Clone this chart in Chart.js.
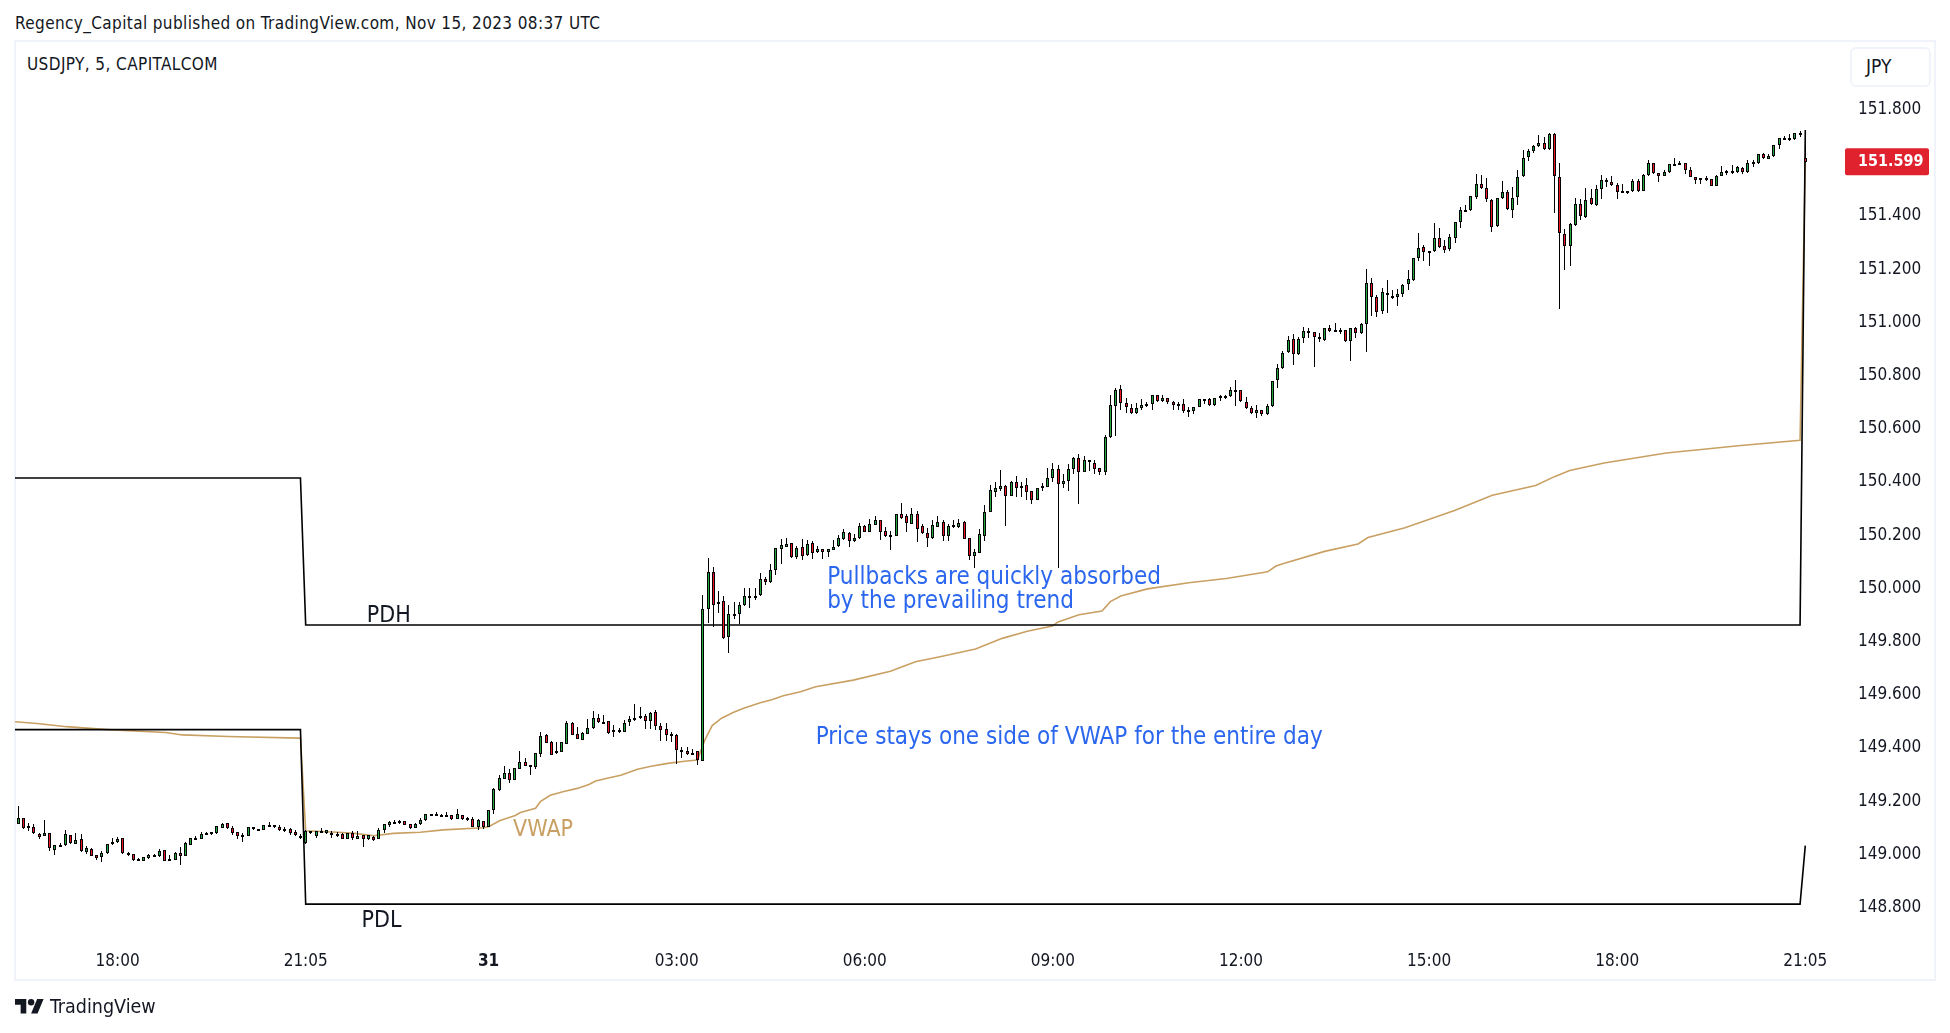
<!DOCTYPE html>
<html><head><meta charset="utf-8">
<style>
html,body{margin:0;padding:0;background:#fff;width:1950px;height:1033px;overflow:hidden}
body{font-family:"DejaVu Sans Condensed","DejaVu Sans",sans-serif;color:#131722;font-stretch:condensed}
.abs{position:absolute;white-space:nowrap}
#frame{left:14px;top:40px;width:1918px;height:937px;border:2px solid #f0f3fa}
#chart{position:absolute;left:0;top:0}
#jpy{left:1850px;top:47px;width:77px;height:36px;border:2px solid #f0f3fa;border-radius:6px;font-size:19px;line-height:34px;text-indent:14px}
</style>
<script src="https://cdn.jsdelivr.net/npm/chart.js@4/dist/chart.umd.min.js"></script>
</head><body>
<div class="abs" style="left:15px;top:13px;font-size:17px;line-height:20px;letter-spacing:.38px">Regency_Capital published on TradingView.com, Nov 15, 2023 08:37 UTC</div>
<div class="abs" id="frame"></div>
<div class="abs" style="left:27px;top:54px;font-size:17px;line-height:20px;letter-spacing:.41px">USDJPY, 5, CAPITALCOM</div>
<div class="abs" id="jpy">JPY</div>
<canvas id="chart" width="1950" height="1033" style="width:1950px;height:1033px"></canvas>
<svg class="abs" style="left:15px;top:999px" width="29" height="15" viewBox="0 0 36 18.5"><path d="M14 18H7V7H0V0h14v18zM28 18h-8L27.5 0h8L28 18z" fill="#131722"/><circle cx="20" cy="4" r="4" fill="#131722"/></svg>
<div class="abs" style="left:50px;top:996px;font-size:19.5px;line-height:22px">TradingView</div>
<script>
const candleOpen=[
149.106,149.129,149.100,149.095,149.068,149.063,149.072,149.011,149.023,149.027,149.065,149.033,149.050,149.003,149.013,148.989,148.984,148.997,149.031,149.038,
149.053,148.997,148.993,148.969,148.969,148.981,148.986,148.986,149.008,148.969,148.973,148.998,148.988,149.030,149.052,149.052,149.068,149.073,149.075,149.093,
149.110,149.093,149.076,149.066,149.063,149.095,149.083,149.086,149.102,149.102,149.095,149.083,149.087,149.076,149.063,149.035,149.080,149.063,149.076,149.072,
149.072,149.070,149.068,149.052,149.072,149.052,149.065,149.052,149.060,149.052,149.083,149.104,149.112,149.109,149.117,149.106,149.093,149.106,149.121,149.140,
149.140,149.140,149.139,149.140,149.127,149.140,149.131,149.127,149.097,149.119,149.096,149.158,149.236,149.278,149.299,149.274,149.315,149.339,149.327,149.322,
149.372,149.442,149.416,149.373,149.379,149.409,149.486,149.444,149.424,149.447,149.467,149.504,149.492,149.493,149.456,149.457,149.454,149.489,149.504,149.510,
149.512,149.493,149.527,149.474,149.463,149.441,149.442,149.384,149.380,149.372,149.380,149.345,149.914,150.053,149.933,149.944,149.809,149.894,149.896,149.932,
149.962,149.962,149.967,150.027,150.016,150.061,150.140,150.150,150.162,150.112,150.147,150.117,150.162,150.128,150.140,150.128,150.138,150.151,150.180,150.202,
150.170,150.181,150.226,150.206,150.231,150.250,150.207,150.191,150.191,150.271,150.264,150.236,150.271,150.226,150.200,150.184,150.225,150.241,150.191,150.226,
150.225,150.242,150.181,150.116,150.127,150.191,150.281,150.356,150.368,150.376,150.340,150.392,150.372,150.380,150.358,150.326,150.373,150.375,150.409,150.440,
150.384,150.396,150.441,150.482,150.430,150.475,150.463,150.445,150.430,150.561,150.678,150.742,150.689,150.670,150.651,150.670,150.681,150.685,150.719,150.696,
150.708,150.693,150.684,150.685,150.659,150.659,150.674,150.700,150.704,150.681,150.708,150.713,150.715,150.734,150.738,150.693,150.670,150.651,150.663,150.648,
150.678,150.775,150.820,150.881,150.929,150.873,150.933,150.960,150.956,150.937,150.926,150.971,150.962,150.963,150.963,150.924,150.971,150.952,150.986,151.140,
151.087,151.035,151.102,151.087,151.087,151.099,151.136,151.151,151.234,151.275,151.257,151.260,151.309,151.279,151.268,151.309,151.369,151.414,151.414,151.463,
151.512,151.497,151.452,151.354,151.460,151.482,151.414,151.463,151.542,151.614,151.636,151.655,151.666,151.644,151.700,151.538,151.324,151.279,151.358,151.437,
151.388,151.460,151.433,151.493,151.523,151.520,151.508,151.483,151.486,151.485,151.523,151.485,151.546,151.591,151.554,151.545,151.560,151.586,151.586,151.591,
151.565,151.540,151.531,151.530,151.531,151.507,151.545,151.557,151.557,151.557,151.572,151.557,151.591,151.591,151.625,151.609,151.617,151.658,151.681,151.681,
151.681,151.703,151.610];
const candleClose=[
149.129,149.091,149.093,149.072,149.060,149.072,149.015,149.027,149.028,149.068,149.035,149.046,149.004,149.016,148.988,148.981,148.997,149.031,149.040,149.050,
148.997,148.993,148.971,148.974,148.982,148.992,148.992,149.006,148.969,148.974,148.998,148.988,149.036,149.053,149.055,149.070,149.075,149.076,149.098,149.107,
149.091,149.075,149.063,149.062,149.095,149.087,149.087,149.102,149.105,149.095,149.083,149.087,149.075,149.065,149.061,149.080,149.072,149.080,149.080,149.083,
149.065,149.065,149.052,149.072,149.056,149.062,149.052,149.065,149.046,149.083,149.106,149.114,149.115,149.117,149.105,149.092,149.107,149.122,149.144,149.144,
149.145,149.142,149.141,149.127,149.145,149.127,149.129,149.097,149.121,149.095,149.159,149.239,149.280,149.299,149.273,149.317,149.339,149.327,149.329,149.373,
149.437,149.413,149.368,149.382,149.414,149.486,149.443,149.428,149.448,149.468,149.504,149.489,149.488,149.451,149.459,149.461,149.486,149.502,149.507,149.512,
149.493,149.526,149.477,149.462,149.443,149.446,149.384,149.387,149.372,149.374,149.349,149.914,150.053,149.929,149.941,149.808,149.896,149.897,149.929,149.963,
149.965,149.965,150.027,150.016,150.061,150.143,150.155,150.160,150.112,150.143,150.116,150.158,150.127,150.140,150.128,150.140,150.150,150.181,150.204,150.170,
150.181,150.226,150.206,150.235,150.249,150.204,150.191,150.194,150.271,150.259,150.237,150.271,150.217,150.200,150.184,150.230,150.241,150.191,150.226,150.230,
150.237,150.180,150.116,150.128,150.196,150.279,150.361,150.369,150.376,150.339,150.393,150.372,150.379,150.356,150.324,150.369,150.376,150.407,150.440,150.384,
150.396,150.441,150.482,150.430,150.475,150.467,150.441,150.430,150.561,150.681,150.738,150.689,150.674,150.651,150.670,150.681,150.685,150.719,150.696,150.708,
150.693,150.681,150.686,150.658,150.663,150.674,150.704,150.703,150.681,150.708,150.715,150.715,150.738,150.738,150.696,150.670,150.651,150.663,150.648,150.678,
150.772,150.820,150.877,150.926,150.873,150.929,150.960,150.952,150.937,150.929,150.971,150.960,150.965,150.958,150.924,150.971,150.952,150.986,151.140,151.087,
151.031,151.106,151.095,151.091,151.099,151.132,151.155,151.234,151.272,151.257,151.260,151.309,151.275,151.264,151.313,151.369,151.414,151.416,151.467,151.512,
151.497,151.456,151.350,151.460,151.482,151.418,151.460,151.538,151.610,151.636,151.655,151.666,151.644,151.700,151.542,151.328,151.279,151.362,151.437,151.392,
151.452,151.437,151.493,151.527,151.527,151.508,151.482,151.486,151.481,151.523,151.485,151.546,151.591,151.554,151.545,151.557,151.587,151.589,151.591,151.565,
151.541,151.530,151.535,151.535,151.507,151.542,151.557,151.561,151.561,151.576,151.557,151.591,151.595,151.625,151.610,151.617,151.659,151.685,151.685,151.685,
151.704,151.705,151.597];
const candleHigh=[
149.175,149.131,149.110,149.106,149.075,149.122,149.072,149.027,149.035,149.085,149.065,149.075,149.070,149.025,149.015,148.992,149.004,149.031,149.055,149.060,
149.053,149.002,148.994,148.979,148.984,148.994,148.993,149.013,149.009,148.991,149.003,149.021,149.041,149.056,149.061,149.077,149.076,149.076,149.101,149.111,
149.111,149.100,149.076,149.072,149.096,149.097,149.087,149.103,149.113,149.105,149.102,149.095,149.092,149.085,149.070,149.085,149.082,149.082,149.092,149.085,
149.080,149.077,149.072,149.075,149.080,149.080,149.065,149.065,149.062,149.091,149.107,149.117,149.121,149.121,149.119,149.106,149.110,149.130,149.145,149.144,
149.152,149.146,149.152,149.141,149.164,149.140,149.135,149.134,149.125,149.120,149.159,149.241,149.291,149.325,149.313,149.319,149.382,149.357,149.329,149.373,
149.452,149.446,149.418,149.416,149.417,149.496,149.489,149.472,149.452,149.501,149.531,149.520,149.517,149.496,149.478,149.468,149.498,149.513,149.557,149.546,
149.521,149.527,149.535,149.487,149.486,149.453,149.444,149.395,149.395,149.390,149.380,149.968,150.106,150.072,149.983,149.964,149.931,149.942,149.942,149.995,
149.995,149.995,150.051,150.036,150.086,150.143,150.179,150.182,150.165,150.152,150.177,150.173,150.170,150.153,150.142,150.140,150.173,150.194,150.217,150.205,
150.196,150.237,150.231,150.252,150.265,150.251,150.222,150.210,150.271,150.313,150.271,150.294,150.284,150.235,150.221,150.249,150.264,150.250,150.235,150.249,
150.252,150.246,150.184,150.140,150.215,150.306,150.380,150.392,150.438,150.380,150.395,150.414,150.392,150.407,150.360,150.372,150.389,150.444,150.463,150.457,
150.422,150.460,150.487,150.497,150.490,150.475,150.475,150.445,150.569,150.719,150.745,150.756,150.708,150.685,150.689,150.704,150.693,150.719,150.719,150.719,
150.708,150.696,150.694,150.704,150.674,150.674,150.704,150.703,150.708,150.708,150.719,150.719,150.749,150.777,150.738,150.711,150.678,150.681,150.664,150.685,
150.774,150.835,150.884,150.941,150.948,150.937,150.975,150.971,150.956,150.952,150.971,150.982,150.990,150.971,150.963,150.971,150.975,150.990,151.193,151.159,
151.095,151.121,151.151,151.115,151.117,151.136,151.189,151.234,151.329,151.283,151.260,151.367,151.348,151.302,151.324,151.369,151.426,151.434,151.467,151.550,
151.546,151.535,151.456,151.460,151.523,151.490,151.501,151.565,151.641,151.645,151.660,151.698,151.689,151.704,151.704,151.592,151.343,151.366,151.460,151.456,
151.497,151.493,151.508,151.546,151.535,151.542,151.516,151.512,151.486,151.531,151.531,151.550,151.602,151.591,151.554,151.565,151.587,151.611,151.599,151.591,
151.576,151.540,151.535,151.542,151.533,151.546,151.580,151.565,151.584,151.579,151.576,151.602,151.602,151.626,151.629,151.626,151.660,151.685,151.694,151.700,
151.705,151.713,151.660];
const candleLow=[
149.106,149.090,149.082,149.070,149.052,149.063,149.007,148.992,149.021,149.026,149.033,149.033,149.003,148.994,148.987,148.971,148.966,148.996,149.028,149.037,
148.996,148.988,148.969,148.969,148.968,148.974,148.984,148.984,148.968,148.969,148.971,148.954,148.988,149.027,149.052,149.051,149.067,149.065,149.070,149.092,
149.090,149.066,149.051,149.041,149.062,149.085,149.083,149.085,149.102,149.092,149.082,149.077,149.067,149.063,149.052,149.033,149.070,149.056,149.075,149.071,
149.056,149.057,149.051,149.051,149.048,149.051,149.022,149.048,149.045,149.051,149.075,149.097,149.109,149.107,149.104,149.090,149.092,149.105,149.120,149.140,
149.140,149.140,149.139,149.121,149.126,149.122,149.119,149.096,149.086,149.090,149.095,149.146,149.233,149.276,149.263,149.273,149.313,149.325,149.293,149.314,
149.360,149.411,149.367,149.372,149.378,149.407,149.442,149.427,149.423,149.446,149.466,149.488,149.484,149.444,149.436,149.448,149.453,149.477,149.496,149.502,
149.466,149.466,149.462,149.420,149.419,149.414,149.332,149.355,149.368,149.367,149.330,149.343,149.864,149.847,149.902,149.802,149.751,149.877,149.860,149.928,
149.921,149.951,149.965,150.007,150.015,150.045,150.086,150.147,150.108,150.105,150.098,150.116,150.105,150.127,150.105,150.111,150.138,150.150,150.175,150.150,
150.169,150.180,150.204,150.205,150.230,150.176,150.187,150.138,150.190,150.252,150.205,150.235,150.169,150.199,150.150,150.177,150.224,150.172,150.172,150.219,
150.219,150.179,150.100,150.071,150.126,150.172,150.280,150.338,150.360,150.229,150.339,150.338,150.338,150.325,150.311,150.325,150.360,150.374,150.392,150.068,
150.372,150.360,150.424,150.312,150.430,150.436,150.424,150.418,150.418,150.560,150.564,150.663,150.651,150.650,150.650,150.663,150.676,150.665,150.693,150.695,
150.685,150.665,150.663,150.654,150.639,150.650,150.673,150.685,150.680,150.678,150.696,150.705,150.714,150.680,150.695,150.669,150.650,150.635,150.640,150.644,
150.676,150.748,150.819,150.879,150.834,150.872,150.917,150.936,150.827,150.921,150.924,150.958,150.962,150.951,150.921,150.849,150.936,150.951,150.883,151.018,
151.015,151.026,151.030,151.080,151.055,151.090,151.116,151.150,151.225,151.225,151.206,151.259,151.274,151.252,151.263,151.293,151.346,151.414,151.413,151.455,
151.493,151.447,151.334,151.353,151.456,151.417,151.387,151.436,151.541,151.600,151.629,151.654,151.642,151.642,151.406,151.045,151.188,151.206,151.357,151.379,
151.384,151.436,151.432,151.458,151.500,151.507,151.455,151.483,151.477,151.483,151.483,151.485,151.545,151.552,151.522,151.543,151.556,151.582,151.586,151.550,
151.538,151.515,151.512,151.526,151.507,151.507,151.543,151.546,151.550,151.556,151.552,151.556,151.576,151.590,151.606,151.607,151.616,151.646,151.679,151.676,
151.680,151.691,151.591];

const vwapBar=[-1,3.6,9.2,17.1,28.2,31.4,40.1,53.8,54,55,59,62,64.4,68,71.8,76.9,81.3,89,90,92.2,95.1,96.1,99,99.9,101.8,104.4,107,109.2,110.5,112.7,115.3,118.5,121.1,124.3,127.5,130,130.8,131.4,132.8,134.6,136.8,138.8,142,144.2,146.4,149.7,152.6,159.8,166.9,171.7,176.4,183.2,188.3,193.1,197.9,199,203,207.4,209,211,216.1,224,231.2,239.1,240.7,242.8,250,256.4,258.3,265.4,275,282.1,290.4,294,296.9,303.5,315.4,329.7,341,342];
const vwapValue=[149.492,149.485,149.473,149.462,149.451,149.442,149.436,149.430,149.430,149.082,149.078,149.075,149.072,149.063,149.072,149.076,149.085,149.093,149.097,149.120,149.139,149.150,149.166,149.191,149.215,149.229,149.241,149.256,149.269,149.279,149.290,149.313,149.324,149.335,149.343,149.348,149.392,149.423,149.477,149.505,149.526,149.542,149.563,149.574,149.589,149.604,149.623,149.648,149.681,149.717,149.736,149.765,149.805,149.832,149.851,149.867,149.894,149.908,149.943,149.964,149.991,150.014,150.030,150.055,150.077,150.090,150.132,150.160,150.184,150.221,150.287,150.343,150.380,150.413,150.436,150.464,150.502,150.530,150.550,151.600];
const pdhBar=[-1,54,55,341,342];
const pdhValue=[150.408,150.408,149.855,149.855,151.716];
const pdlBar=[-1,54,55,341,342];
const pdlValue=[149.462,149.462,148.806,148.806,149.026];

const priceTicks=[148.8,149,149.2,149.4,149.6,149.8,150,150.2,150.4,150.6,150.8,151,151.2,151.4,151.6,151.8];
const timeTickBars=[19,55,90,126,162,198,234,270,306,342];
const timeTickLabels=["18:00","21:05","31","03:00","06:00","09:00","12:00","15:00","18:00","21:05"];
const lastPrice=151.599;
const notes=[
 {text:"PDH",bar:66.7,price:149.889,color:"#131722",font:'23px "DejaVu Sans Condensed"'},
 {text:"PDL",bar:65.7,price:148.744,color:"#131722",font:'23px "DejaVu Sans Condensed"'},
 {text:"VWAP",bar:94.7,price:149.083,color:"#c9a063",font:'23px "DejaVu Sans Condensed"'},
 {text:"Pullbacks are quickly absorbed",bar:154.8,price:150.032,color:"#2a66ee",font:'24px "DejaVu Sans Condensed"'},
 {text:"by the prevailing trend",bar:154.8,price:149.942,color:"#2a66ee",font:'24px "DejaVu Sans Condensed"'},
 {text:"Price stays one side of VWAP for the entire day",bar:152.6,price:149.432,color:"#2a66ee",font:'24px "DejaVu Sans Condensed"'}
];

const FONT='"DejaVu Sans Condensed","DejaVu Sans",sans-serif';
const TEXT='#131722', GREEN='#22a83e', RED='#f01428';
const idx=candleOpen.map((_,i)=>i);
const up=i=>candleClose[i]>=candleOpen[i];

const crisp={id:'crisp',afterDatasetsUpdate(chart){
  chart.data.datasets.forEach((ds,k)=>{
    if(ds.type!=='bar')return;
    const minH=ds.label==='Body'?2:1;
    chart.getDatasetMeta(k).data.forEach(el=>{
      el.x=Math.floor(el.x)+0.5;
      const t=Math.round(Math.min(el.y,el.base));
      let b=Math.round(Math.max(el.y,el.base));
      if(b-t<minH)b=t+minH;
      el.y=t;el.base=b;
    });
  });
}};
const overlay={id:'overlay',
 beforeDraw(chart){
  chart.scales.y.getLabelItems(chart.chartArea).forEach(it=>{
    if(!it._shifted){it._shifted=true;it.options.translation[1]+=1.8;}
  });
 },
 afterDraw(chart){
  const c=chart.ctx,x=chart.scales.x,y=chart.scales.y,a=chart.chartArea;
  c.save();
  c.textBaseline='middle';c.textAlign='left';
  notes.forEach(n=>{c.font=n.font;c.fillStyle=n.color;c.fillText(n.text,x.getPixelForValue(n.bar),y.getPixelForValue(n.price));});
  const py=y.getPixelForValue(lastPrice);
  c.fillStyle='#e0212e';c.beginPath();c.roundRect(a.right,py-13,84,27,2);c.fill();
  c.fillStyle='#fff';c.font='bold 16px '+FONT;c.fillText(lastPrice.toFixed(3),a.right+13,py+1);
  c.restore();
}};
new Chart(document.getElementById('chart'),{
  data:{datasets:[
    {type:'bar',label:'Body',order:1,data:idx.map(i=>({x:i,y:[candleOpen[i],candleClose[i]]})),barThickness:3,grouped:false,
     backgroundColor:idx.map(i=>up(i)?GREEN:RED),borderColor:'#000',borderWidth:1,borderSkipped:false,inflateAmount:0},
    {type:'bar',label:'Wick',order:2,data:idx.map(i=>({x:i,y:[candleLow[i],candleHigh[i]]})),barThickness:1,grouped:false,
     backgroundColor:'#000',borderWidth:0,inflateAmount:0},
    {type:'line',label:'PDH',order:3,data:pdhBar.map((b,i)=>({x:b,y:pdhValue[i]})),borderColor:'#000',borderWidth:1.6,pointRadius:0,tension:0},
    {type:'line',label:'PDL',order:3,data:pdlBar.map((b,i)=>({x:b,y:pdlValue[i]})),borderColor:'#000',borderWidth:1.6,pointRadius:0,tension:0},
    {type:'line',label:'VWAP',order:5,data:vwapBar.map((b,i)=>({x:b,y:vwapValue[i]})),borderColor:'#c9a063',borderWidth:1.6,pointRadius:0,tension:0}
  ]},
  options:{
    responsive:false,animation:false,devicePixelRatio:1,
    layout:{padding:{left:15,top:42,right:0,bottom:0}},
    plugins:{legend:{display:false},tooltip:{enabled:false}},
    scales:{
      x:{type:'linear',offset:false,min:-0.632,max:349.6,
        grid:{display:false,offset:false},border:{display:false},
        afterBuildTicks:s=>{s.ticks=timeTickBars.map(v=>({value:v}));},
        afterFit:s=>{s.height=93;},
        ticks:{autoSkip:false,maxRotation:0,padding:3.5,color:TEXT,
          font:ctx=>({family:FONT,size:17,weight:timeTickLabels[ctx.index]==='31'?'bold':'normal'}),
          callback:(v,i)=>timeTickLabels[i]}},
      y:{type:'linear',position:'right',min:148.671,max:152.047,
        grid:{display:false},border:{display:false},
        afterBuildTicks:s=>{s.ticks=priceTicks.map(v=>({value:v}));},
        afterFit:s=>{s.width=105;},
        ticks:{padding:5,color:TEXT,font:{family:FONT,size:17},callback:v=>v.toFixed(3)}}
    }
  },
  plugins:[crisp,overlay]
});
</script>
</body></html>
